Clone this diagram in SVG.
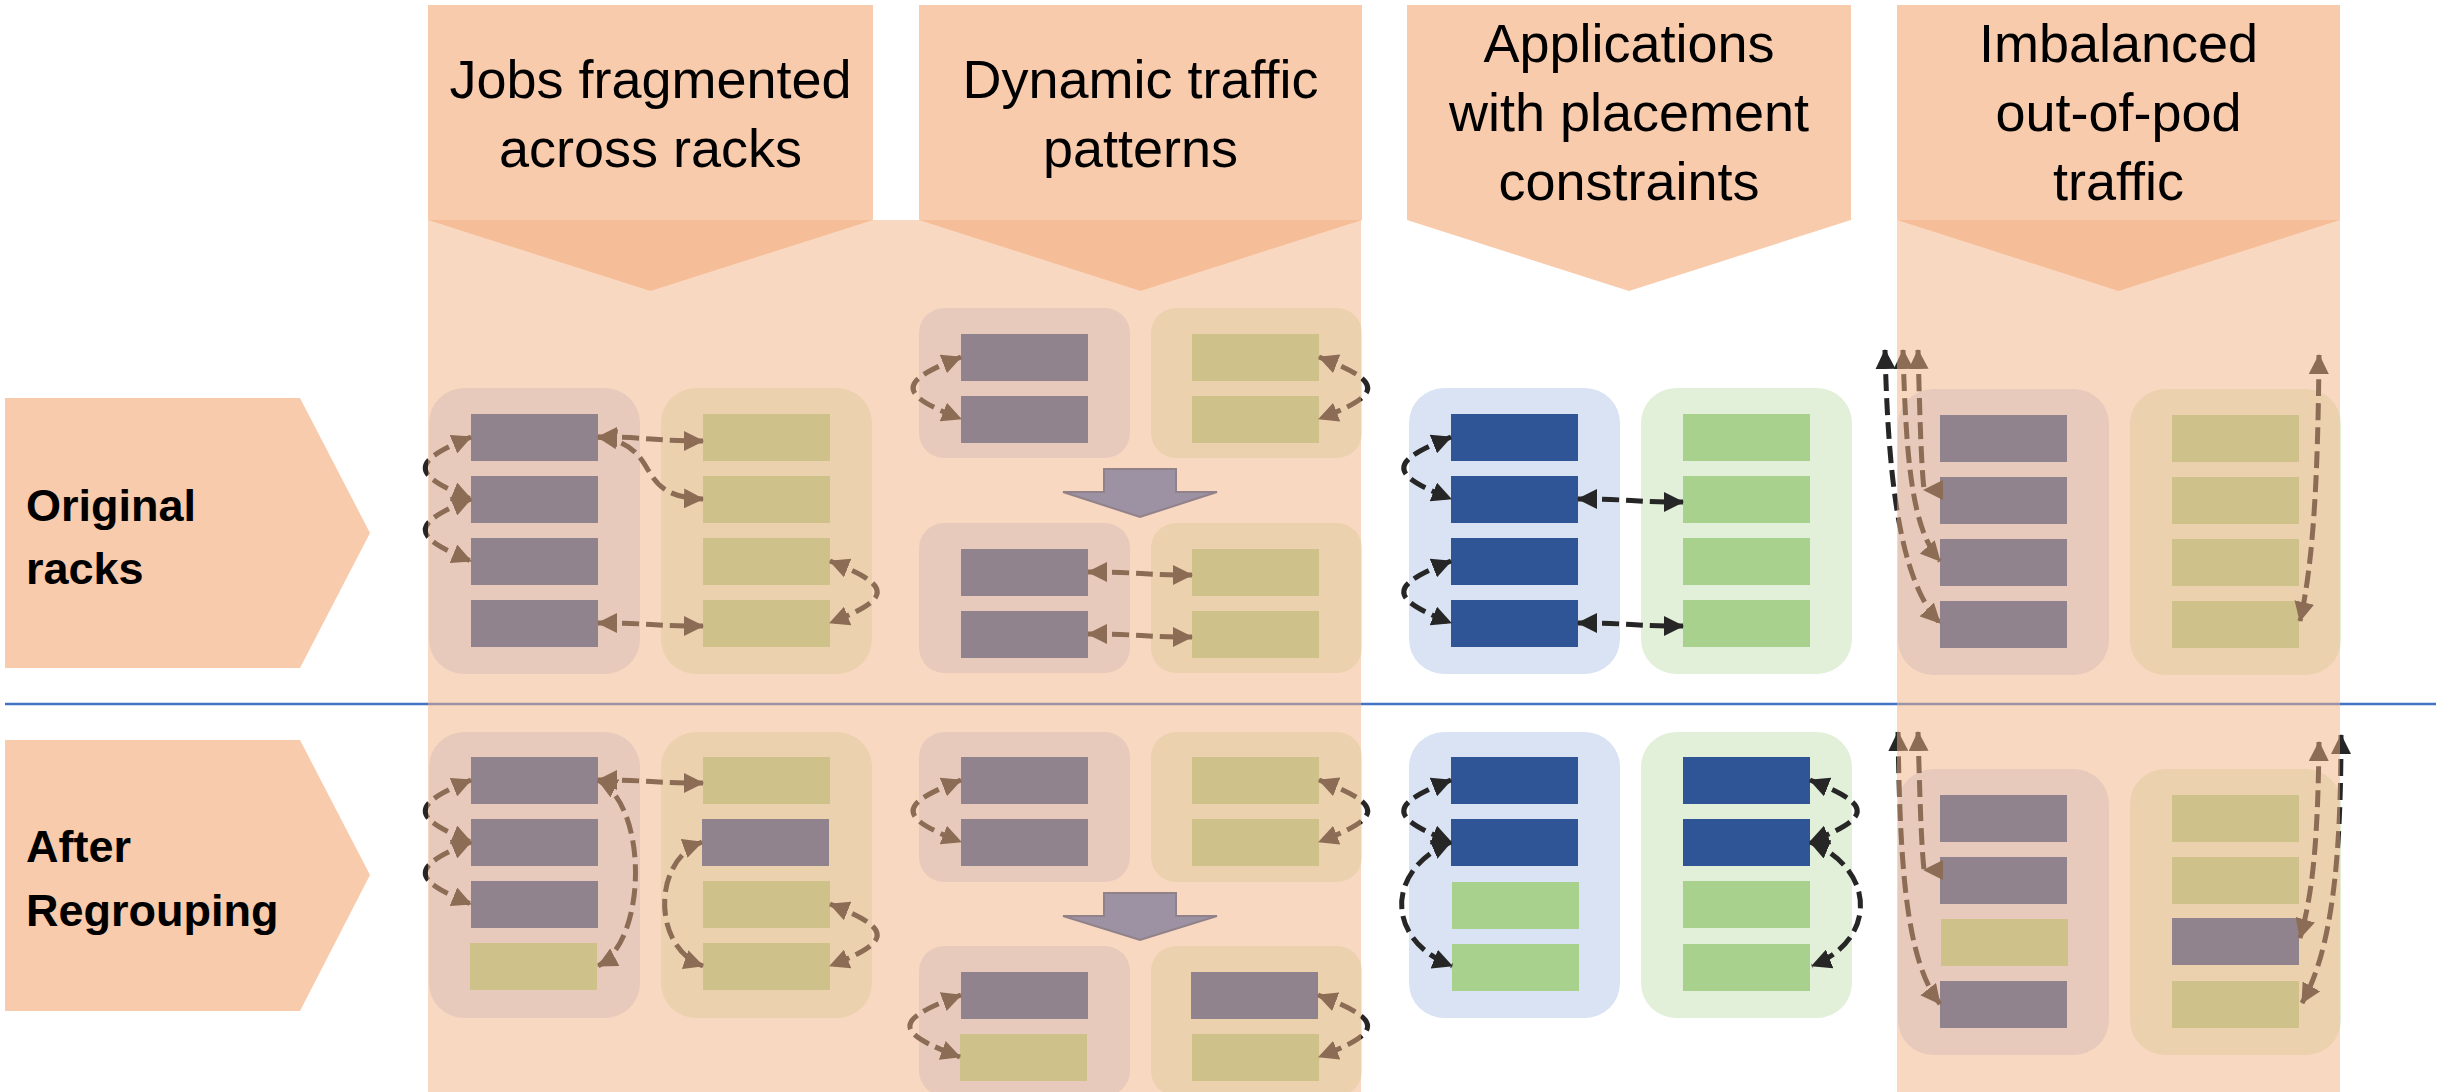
<svg xmlns="http://www.w3.org/2000/svg" width="2456" height="1092" viewBox="0 0 2456 1092">
  <style>
    .hdr { fill: #F8CBAD; }
    .panel { fill: #F4B183; fill-opacity: 0.5; }
    .gb { fill: #DAE3F3; }
    .gg { fill: #E2F0D9; }
    .sb { fill: #2F5597; }
    .sg { fill: #A9D18E; }
    .link { fill: none; stroke: #262626; stroke-width: 5; stroke-dasharray: 17 7; marker-start: url(#ah); marker-end: url(#ah); }
    .oneL { marker-end: url(#ahL); }
    .move { fill: #4472C4; stroke: #2F528F; stroke-width: 2; }
    .ht { font-family: "Liberation Sans", Arial, sans-serif; font-size: 54px; text-anchor: middle; fill: #000; }
    .rt { font-family: "Liberation Sans", Arial, sans-serif; font-size: 45px; font-weight: bold; fill: #000; }
  </style>
  <defs>
    <marker id="ah" viewBox="0 0 20 20" refX="19" refY="10" markerWidth="20" markerHeight="20" markerUnits="userSpaceOnUse" orient="auto-start-reverse">
      <path d="M0,0 L20,10 L0,20 Z" fill="#262626"/>
    </marker>
    <marker id="ahL" viewBox="0 0 20 20" refX="19" refY="10" markerWidth="20" markerHeight="20" markerUnits="userSpaceOnUse" orient="180">
      <path d="M0,0 L20,10 L0,20 Z" fill="#262626"/>
    </marker>
    <filter id="soft" x="-5%" y="-200%" width="110%" height="500%">
      <feGaussianBlur stdDeviation="2"/>
    </filter>
  </defs>

  <rect width="2456" height="1092" fill="#FFFFFF"/>

  <!-- column headers -->
  <g id="hdr-jobs">
    <path class="hdr" d="M428,5 L873,5 L873,220 L650.5,291 L428,220 Z"/>
    <text class="ht" x="650.5" y="98">Jobs fragmented</text>
    <text class="ht" x="650.5" y="167">across racks</text>
  </g>
  <g id="hdr-dynamic">
    <path class="hdr" d="M919,5 L1362,5 L1362,220 L1140.5,291 L919,220 Z"/>
    <text class="ht" x="1140.5" y="98">Dynamic traffic</text>
    <text class="ht" x="1140.5" y="167">patterns</text>
  </g>
  <g id="hdr-placement">
    <path class="hdr" d="M1407,5 L1851,5 L1851,220 L1629,291 L1407,220 Z"/>
    <text class="ht" x="1629" y="62">Applications</text>
    <text class="ht" x="1629" y="131">with placement</text>
    <text class="ht" x="1629" y="200">constraints</text>
  </g>
  <g id="hdr-imbalanced">
    <path class="hdr" d="M1897,5 L2340,5 L2340,220 L2118.5,291 L1897,220 Z"/>
    <text class="ht" x="2118.5" y="62">Imbalanced</text>
    <text class="ht" x="2118.5" y="131">out-of-pod</text>
    <text class="ht" x="2118.5" y="200">traffic</text>
  </g>

  <!-- row labels -->
  <g id="row-original">
    <path class="hdr" d="M5,398 L300,398 L370,533 L300,668 L5,668 Z"/>
    <text class="rt" x="26" y="521">Original</text>
    <text class="rt" x="26" y="584">racks</text>
  </g>
  <g id="row-after">
    <path class="hdr" d="M5,740 L300,740 L370,875 L300,1011 L5,1011 Z"/>
    <text class="rt" x="26" y="862">After</text>
    <text class="rt" x="26" y="926">Regrouping</text>
  </g>

  <!-- separator between the two rows -->
  <g id="separator">
    <line x1="5" y1="708" x2="2436" y2="708" stroke="#000" stroke-opacity="0.13" stroke-width="6" filter="url(#soft)"/>
    <line x1="5" y1="704" x2="2436" y2="704" stroke="#4472C4" stroke-width="2.6"/>
  </g>

  <!-- column 1: jobs fragmented -->
  <g id="c1-orig-a">
    <rect class="gb" x="429" y="388" width="211" height="286" rx="35"/>
    <rect class="sb" x="471" y="414" width="127" height="47"/>
    <rect class="sb" x="471" y="476" width="127" height="47"/>
    <rect class="sb" x="471" y="538" width="127" height="47"/>
    <rect class="sb" x="471" y="600" width="127" height="47"/>
  </g>
  <g id="c1-orig-b">
    <rect class="gg" x="661" y="388" width="211" height="286" rx="35"/>
    <rect class="sg" x="703" y="414" width="127" height="47"/>
    <rect class="sg" x="703" y="476" width="127" height="47"/>
    <rect class="sg" x="703" y="538" width="127" height="47"/>
    <rect class="sg" x="703" y="600" width="127" height="47"/>
  </g>
  <g id="c1-after-a">
    <rect class="gb" x="429" y="732" width="211" height="286" rx="35"/>
    <rect class="sb" x="471" y="757" width="127" height="47"/>
    <rect class="sb" x="471" y="819" width="127" height="47"/>
    <rect class="sb" x="471" y="881" width="127" height="47"/>
    <rect class="sg" x="470" y="943" width="127" height="47"/>
  </g>
  <g id="c1-after-b">
    <rect class="gg" x="661" y="732" width="211" height="286" rx="35"/>
    <rect class="sg" x="703" y="757" width="127" height="47"/>
    <rect class="sb" x="702" y="819" width="127" height="47"/>
    <rect class="sg" x="703" y="881" width="127" height="47"/>
    <rect class="sg" x="703" y="943" width="127" height="47"/>
  </g>

  <!-- column 2: dynamic traffic patterns -->
  <g id="c2-orig-t1">
    <rect class="gb" x="919" y="308" width="211" height="150" rx="25"/>
    <rect class="sb" x="961" y="334" width="127" height="47"/>
    <rect class="sb" x="961" y="396" width="127" height="47"/>
  </g>
  <g id="c2-orig-t2">
    <rect class="gg" x="1151" y="308" width="211" height="150" rx="25"/>
    <rect class="sg" x="1192" y="334" width="127" height="47"/>
    <rect class="sg" x="1192" y="396" width="127" height="47"/>
  </g>
  <g id="c2-orig-b1">
    <rect class="gb" x="919" y="523" width="211" height="150" rx="25"/>
    <rect class="sb" x="961" y="549" width="127" height="47"/>
    <rect class="sb" x="961" y="611" width="127" height="47"/>
  </g>
  <g id="c2-orig-b2">
    <rect class="gg" x="1151" y="523" width="211" height="150" rx="25"/>
    <rect class="sg" x="1192" y="549" width="127" height="47"/>
    <rect class="sg" x="1192" y="611" width="127" height="47"/>
  </g>
  <g id="c2-after-t1">
    <rect class="gb" x="919" y="732" width="211" height="150" rx="25"/>
    <rect class="sb" x="961" y="757" width="127" height="47"/>
    <rect class="sb" x="961" y="819" width="127" height="47"/>
  </g>
  <g id="c2-after-t2">
    <rect class="gg" x="1151" y="732" width="211" height="150" rx="25"/>
    <rect class="sg" x="1192" y="757" width="127" height="47"/>
    <rect class="sg" x="1192" y="819" width="127" height="47"/>
  </g>
  <g id="c2-after-b1">
    <rect class="gb" x="919" y="946" width="211" height="150" rx="25"/>
    <rect class="sb" x="961" y="972" width="127" height="47"/>
    <rect class="sg" x="960" y="1034" width="127" height="47"/>
  </g>
  <g id="c2-after-b2">
    <rect class="gg" x="1151" y="946" width="211" height="150" rx="25"/>
    <rect class="sb" x="1191" y="972" width="127" height="47"/>
    <rect class="sg" x="1192" y="1034" width="127" height="47"/>
  </g>
  <g id="c2-moves">
    <path class="move" d="M1104,469 L1176,469 L1176,492 L1217,492 L1140,517 L1063,492 L1104,492 Z"/>
    <path class="move" d="M1104,893 L1176,893 L1176,916 L1217,916 L1140,940 L1063,916 L1104,916 Z"/>
  </g>

  <!-- column 3: placement constraints -->
  <g id="c3-orig-a">
    <rect class="gb" x="1409" y="388" width="211" height="286" rx="35"/>
    <rect class="sb" x="1451" y="414" width="127" height="47"/>
    <rect class="sb" x="1451" y="476" width="127" height="47"/>
    <rect class="sb" x="1451" y="538" width="127" height="47"/>
    <rect class="sb" x="1451" y="600" width="127" height="47"/>
  </g>
  <g id="c3-orig-b">
    <rect class="gg" x="1641" y="388" width="211" height="286" rx="35"/>
    <rect class="sg" x="1683" y="414" width="127" height="47"/>
    <rect class="sg" x="1683" y="476" width="127" height="47"/>
    <rect class="sg" x="1683" y="538" width="127" height="47"/>
    <rect class="sg" x="1683" y="600" width="127" height="47"/>
  </g>
  <g id="c3-after-a">
    <rect class="gb" x="1409" y="732" width="211" height="286" rx="35"/>
    <rect class="sb" x="1451" y="757" width="127" height="47"/>
    <rect class="sb" x="1451" y="819" width="127" height="47"/>
    <rect class="sg" x="1452" y="882" width="127" height="47"/>
    <rect class="sg" x="1452" y="944" width="127" height="47"/>
  </g>
  <g id="c3-after-b">
    <rect class="gg" x="1641" y="732" width="211" height="286" rx="35"/>
    <rect class="sb" x="1683" y="757" width="127" height="47"/>
    <rect class="sb" x="1683" y="819" width="127" height="47"/>
    <rect class="sg" x="1683" y="881" width="127" height="47"/>
    <rect class="sg" x="1683" y="944" width="127" height="47"/>
  </g>

  <!-- column 4: out-of-pod traffic -->
  <g id="c4-orig-a">
    <rect class="gb" x="1898" y="389" width="211" height="286" rx="35"/>
    <rect class="sb" x="1940" y="415" width="127" height="47"/>
    <rect class="sb" x="1940" y="477" width="127" height="47"/>
    <rect class="sb" x="1940" y="539" width="127" height="47"/>
    <rect class="sb" x="1940" y="601" width="127" height="47"/>
  </g>
  <g id="c4-orig-b">
    <rect class="gg" x="2130" y="389" width="211" height="286" rx="35"/>
    <rect class="sg" x="2172" y="415" width="127" height="47"/>
    <rect class="sg" x="2172" y="477" width="127" height="47"/>
    <rect class="sg" x="2172" y="539" width="127" height="47"/>
    <rect class="sg" x="2172" y="601" width="127" height="47"/>
  </g>
  <g id="c4-after-a">
    <rect class="gb" x="1898" y="769" width="211" height="286" rx="35"/>
    <rect class="sb" x="1940" y="795" width="127" height="47"/>
    <rect class="sb" x="1940" y="857" width="127" height="47"/>
    <rect class="sg" x="1941" y="919" width="127" height="47"/>
    <rect class="sb" x="1940" y="981" width="127" height="47"/>
  </g>
  <g id="c4-after-b">
    <rect class="gg" x="2130" y="769" width="211" height="286" rx="35"/>
    <rect class="sg" x="2172" y="795" width="127" height="47"/>
    <rect class="sg" x="2172" y="857" width="127" height="47"/>
    <rect class="sb" x="2172" y="918" width="127" height="47"/>
    <rect class="sg" x="2172" y="981" width="127" height="47"/>
  </g>

  <!-- traffic between servers -->
  <g id="connectors">
    <!-- column 1, original -->
    <path class="link" d="M471,437 C410,462 410,474 471,499"/>
    <path class="link" d="M471,499 C410,524 410,536 471,561"/>
    <path class="link" d="M598,437 C650,437 652,441 703,441"/>
    <path class="link" d="M598,437 C665,445 630,497 703,499"/>
    <path class="link" d="M830,561 C893,586 893,598 830,623"/>
    <path class="link" d="M598,623 C650,623 652,626 703,626"/>
    <!-- column 1, after -->
    <path class="link" d="M471,780 C410,805 410,817 471,842"/>
    <path class="link" d="M471,842 C410,867 410,879 471,904"/>
    <path class="link" d="M598,780 C650,780 652,783 703,783"/>
    <path class="link" d="M598,780 C648,805 648,940 598,966"/>
    <path class="link" d="M702,842 C652,860 652,948 703,966"/>
    <path class="link" d="M830,904 C893,929 893,941 830,966"/>
    <!-- column 2, original -->
    <path class="link" d="M961,357 C897,382 897,394 961,419"/>
    <path class="link" d="M1319,357 C1384,382 1384,394 1319,419"/>
    <path class="link" d="M1088,572 C1140,572 1142,575 1192,575"/>
    <path class="link" d="M1088,634 C1140,634 1142,637 1192,637"/>
    <!-- column 2, after -->
    <path class="link" d="M961,780 C897,805 897,817 961,842"/>
    <path class="link" d="M1319,780 C1384,805 1384,817 1319,842"/>
    <path class="link" d="M961,995 C893,1020 893,1032 960,1057"/>
    <path class="link" d="M1318,995 C1384,1020 1384,1032 1319,1057"/>
    <!-- column 3, original -->
    <path class="link" d="M1451,437 C1388,462 1388,474 1451,499"/>
    <path class="link" d="M1451,561 C1388,586 1388,598 1451,623"/>
    <path class="link" d="M1578,499 C1630,499 1632,502 1683,502"/>
    <path class="link" d="M1578,623 C1630,623 1632,626 1683,626"/>
    <!-- column 3, after -->
    <path class="link" d="M1451,780 C1388,805 1388,817 1451,842"/>
    <path class="link" d="M1451,842 C1385,870 1385,940 1452,966"/>
    <path class="link" d="M1810,780 C1873,805 1873,817 1810,842"/>
    <path class="link" d="M1810,842 C1877,870 1877,940 1812,966"/>
    <!-- column 4, original -->
    <path class="link" d="M1885,350 C1888,470 1898,580 1940,623"/>
    <path class="link" d="M1903,350 C1906,460 1912,530 1940,561"/>
    <path class="link oneL" d="M1918,350 C1920,420 1921,460 1924,490"/>
    <path class="link" d="M2319,355 C2318,470 2314,560 2300,621"/>
    <!-- column 4, after -->
    <path class="link" d="M1898,732 C1900,860 1905,960 1940,1004"/>
    <path class="link oneL" d="M1918,732 C1920,800 1921,840 1924,870"/>
    <path class="link" d="M2319,742 C2318,830 2314,890 2300,938"/>
    <path class="link" d="M2341,735 C2341,860 2332,950 2302,1003"/>
  </g>

  <!-- translucent column shading -->
  <g id="column-shading">
    <rect class="panel" x="428" y="220" width="933" height="872"/>
    <rect class="panel" x="1897" y="220" width="443" height="872"/>
  </g>
</svg>
